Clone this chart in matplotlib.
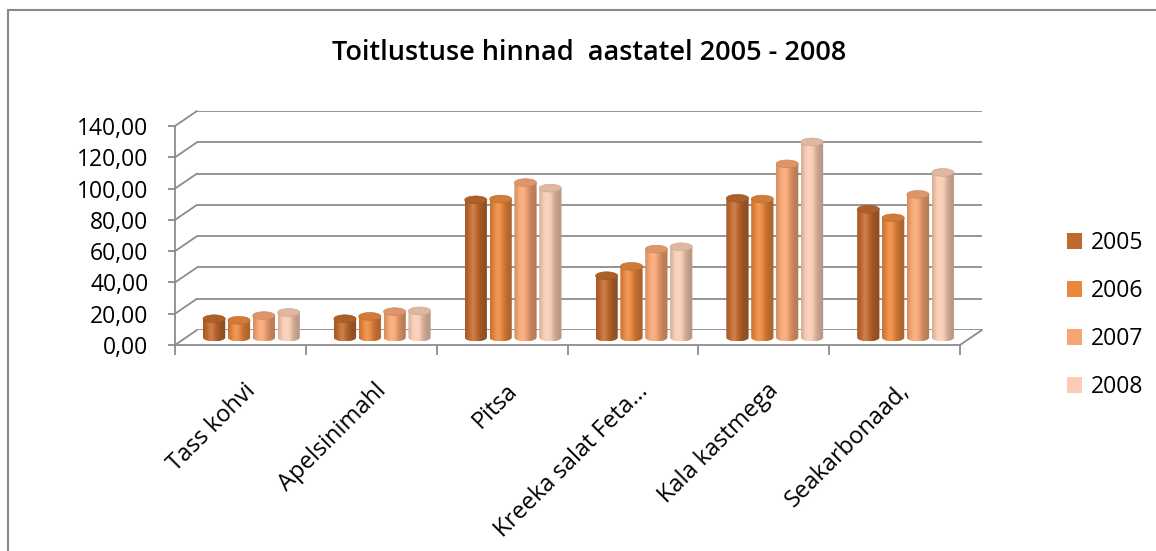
import numpy as np
import matplotlib
matplotlib.use('Agg')
import matplotlib.pyplot as plt
import matplotlib.colors as mcolors
from matplotlib.patches import Ellipse, Patch, Rectangle, ConnectionPatch
from matplotlib.path import Path
from matplotlib.transforms import ScaledTranslation

# data
categories = ['Tass kohvi', 'Apelsinimahl', 'Pitsa', 'Kreeka salat Feta...',
              'Kala kastmega', 'Seakarbonaad,']
years = ['2005', '2006', '2007', '2008']
prices_2005 = [12.0, 12.0, 88.0, 39.5, 89.0, 82.0]
prices_2006 = [11.0, 13.5, 88.5, 45.5, 88.5, 76.5]
prices_2007 = [14.0, 16.5, 99.0, 56.5, 111.0, 91.5]
prices_2008 = [16.0, 17.0, 95.5, 58.0, 125.0, 105.5]
series = [prices_2005, prices_2006, prices_2007, prices_2008]
colors = ['#C0692E', '#E9873D', '#F7A673', '#F9CCB3']
yticks = np.arange(0, 141, 20)

W, H = 1156, 551
ymax = 140
scale = 219 / ymax          # pixels per price unit
grid = '#8c8c8c'

plt.rcParams['font.family'] = ['Open Sans', 'DejaVu Sans']


def box(x0, x1, ytop, ybot):
    """pixel box (top-left origin) -> figure fractions"""
    return [x0 / W, 1 - ybot / H, (x1 - x0) / W, (ybot - ytop) / H]


def cylinder(axm, xc, w, v, color, h=5.0):
    """draw one shaded cylinder standing on 0"""
    base = np.array(mcolors.to_rgb(color))
    t = np.linspace(0, 1, 80)[:, None]
    k = 0.80 + 0.30 * np.exp(-((t - 0.36) / 0.28) ** 2) - 0.06 * t
    rgb = np.where(k <= 1, base * k, base + (1 - base) * (k - 1) * 1.8)
    img = np.clip(rgb, 0, 1)[None, :, :]
    x0, x1 = xc - w / 2, xc + w / 2
    im = axm.imshow(img, extent=(x0, x1, -h / 2, v), aspect='auto',
                    interpolation='bilinear', origin='lower', zorder=2)
    th = np.linspace(np.pi, 2 * np.pi, 40)
    verts = [(x0, v)] + list(zip(xc + w / 2 * np.cos(th), h / 2 * np.sin(th))) + [(x1, v), (x0, v)]
    im.set_clip_path(Path(verts), axm.transData)
    top = np.clip(base * 0.9, 0, 1)
    axm.add_patch(Ellipse((xc, v), w, h, facecolor=top,
                          edgecolor=np.clip(base * 0.8, 0, 1), lw=0.4, zorder=3))


fig = plt.figure(figsize=(W / 100, H / 100), dpi=100)

# back wall with gridlines
ax_back = fig.add_axes(box(197, 982, 111, 330))
ax_back.set_xlim(0, 6)
ax_back.set_ylim(0, ymax)
for v in yticks:
    ax_back.axhline(v, color=grid, lw=1.3)
ax_back.axis('off')

# bars at half depth
ylo = -6
ax_mid = fig.add_axes(box(186, 971, 337.5 - ymax * scale, 337.5 - ylo * scale))
n = len(series)
bw, step = 0.17, 0.19
for j, vals in enumerate(series):
    for i, v in enumerate(vals):
        cylinder(ax_mid, i + 0.5 + (j - (n - 1) / 2) * step, bw, v, colors[j])
ax_mid.set_xlim(0, 6)
ax_mid.set_ylim(ylo, ymax)
ax_mid.axis('off')

# front axis with labels
ax = fig.add_axes(box(175, 960, 126, 345))
ax.patch.set_visible(False)
ax.set_xlim(0, 6)
ax.set_ylim(0, ymax)
ax.set_yticks(yticks)
ax.set_yticklabels([f'{v:.2f}'.replace('.', ',') for v in yticks], fontsize=16.5)
ax.set_xticks(range(7))
ax.set_xticklabels([])
ax.tick_params(axis='y', colors=grid, labelcolor='black', length=5, width=1.3, pad=14)
ax.tick_params(axis='x', colors=grid, length=7, width=1.3)
for s in ['top', 'right']:
    ax.spines[s].set_visible(False)
for s in ['left', 'bottom']:
    ax.spines[s].set_color(grid)
    ax.spines[s].set_linewidth(1.3)

off = ScaledTranslation(0.03, -0.34, fig.dpi_scale_trans)
for i, lab in enumerate(categories):
    ax.text(i + 0.5, 0, lab, transform=ax.transData + off, rotation=45,
            rotation_mode='anchor', ha='right', va='top', fontsize=17)

# depth connectors
for v in yticks:
    fig.add_artist(ConnectionPatch((0, v), (0, v), coordsA=ax.transData,
                                   coordsB=ax_back.transData, color=grid, lw=1.3))
fig.add_artist(ConnectionPatch((6, 0), (6, 0), coordsA=ax.transData,
                               coordsB=ax_back.transData, color=grid, lw=1.3))

handles = [Patch(facecolor=c) for c in colors]
fig.legend(handles, years, loc='center left', bbox_to_anchor=(1046 / W, 1 - 315 / H),
           frameon=False, fontsize=16.5, handlelength=0.65, handleheight=0.65,
           labelspacing=1.05, handletextpad=0.4)

fig.text(589 / W, 1 - 53 / H, 'Toitlustuse hinnad  aastatel 2005 - 2008',
         ha='center', va='center', fontsize=19.5, weight='semibold')

fig.add_artist(Rectangle((8 / W, -0.1), 1.2, 1.1 - 10 / H, transform=fig.transFigure,
                         fill=False, ec='#8a8a8a', lw=1.5))

fig.savefig('out.png', dpi=100)
